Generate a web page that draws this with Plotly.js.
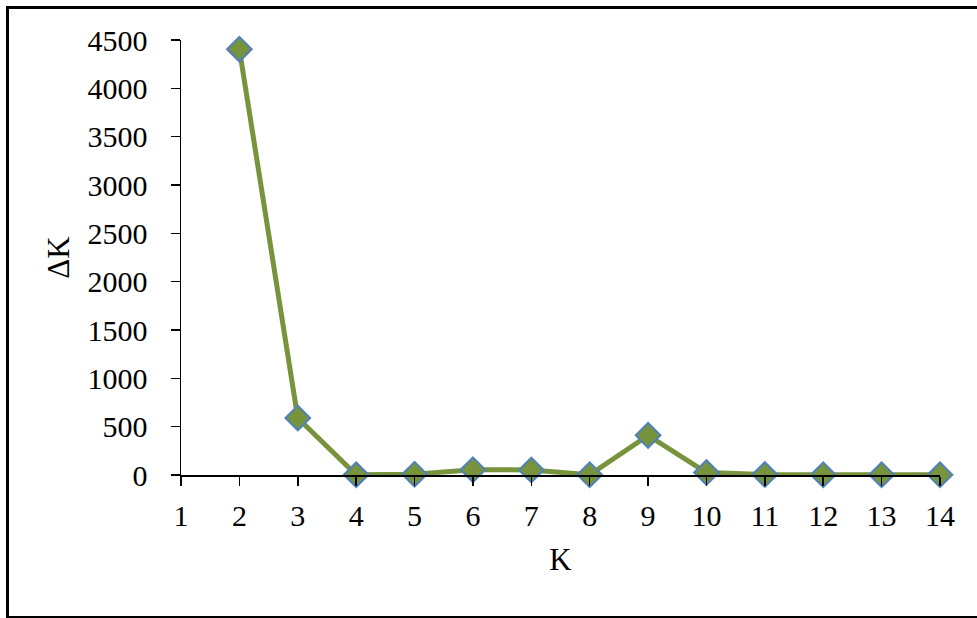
<!DOCTYPE html>
<html>
<head>
<meta charset="utf-8">
<script src="https://cdn.plot.ly/plotly-3.0.1.min.js"></script>
<style>
  html, body { margin: 0; padding: 0; background: #fff; }
  #wrap { position: relative; width: 977px; height: 618px; overflow: hidden; }
  #frame { position: absolute; left: 6px; top: 6px; width: 990px; height: 607px; border: 3px solid #000; box-sizing: content-box; pointer-events: none; }
  #chart { position: absolute; left: 0; top: 0; width: 977px; height: 618px; }
</style>
</head>
<body>
<div id="wrap">
  <div id="chart"></div>
  <div id="frame"></div>
</div>
<script>
const kValues = [2, 3, 4, 5, 6, 7, 8, 9, 10, 11, 12, 13, 14];
const deltaK = [4405, 590, 2, 8, 55, 52, 2, 410, 25, 5, 3, 3, 2];
const xTicks = [1, 2, 3, 4, 5, 6, 7, 8, 9, 10, 11, 12, 13, 14];
const yTicks = [0, 500, 1000, 1500, 2000, 2500, 3000, 3500, 4000, 4500];

const serif = "'Liberation Serif', 'Times New Roman', serif";

Plotly.newPlot('chart', [{
  x: kValues,
  y: deltaK,
  type: 'scatter',
  mode: 'lines+markers',
  line: { color: '#77933C', width: 5 },
  marker: { symbol: 'diamond', size: 19, color: '#77933C', line: { color: '#4F81BD', width: 2 } },
  showlegend: false,
  cliponaxis: false
}], {
  width: 977,
  height: 618,
  margin: { l: 181, r: 37, t: 40, b: 143 },
  paper_bgcolor: '#fff',
  plot_bgcolor: '#fff',
  font: { family: serif, color: '#000', size: 30 },
  xaxis: {
    range: [1, 14],
    tickvals: xTicks,
    ticktext: xTicks.map(String),
    showgrid: false,
    zeroline: false,
    showline: true,
    linecolor: '#000',
    linewidth: 1.5,
    ticks: 'outside',
    ticklen: 9,
    tickwidth: 1.5,
    tickcolor: '#000',
    ticklabelstandoff: 4,
    tickfont: { family: serif, size: 30, color: '#000' },
    title: { text: 'K', font: { family: serif, size: 31, color: '#000' }, standoff: 18 }
  },
  yaxis: {
    range: [0, 4500],
    tickvals: yTicks,
    ticktext: yTicks.map(String),
    showgrid: false,
    zeroline: false,
    showline: true,
    linecolor: '#000',
    linewidth: 1.5,
    ticks: 'outside',
    ticklen: 9,
    tickwidth: 1.5,
    tickcolor: '#000',
    ticklabelstandoff: 17,
    tickfont: { family: serif, size: 30, color: '#000' },
    title: { text: 'ΔK', font: { family: serif, size: 31, color: '#000' }, standoff: 8 }
  }
}, { displayModeBar: false, staticPlot: true });
</script>
</body>
</html>
